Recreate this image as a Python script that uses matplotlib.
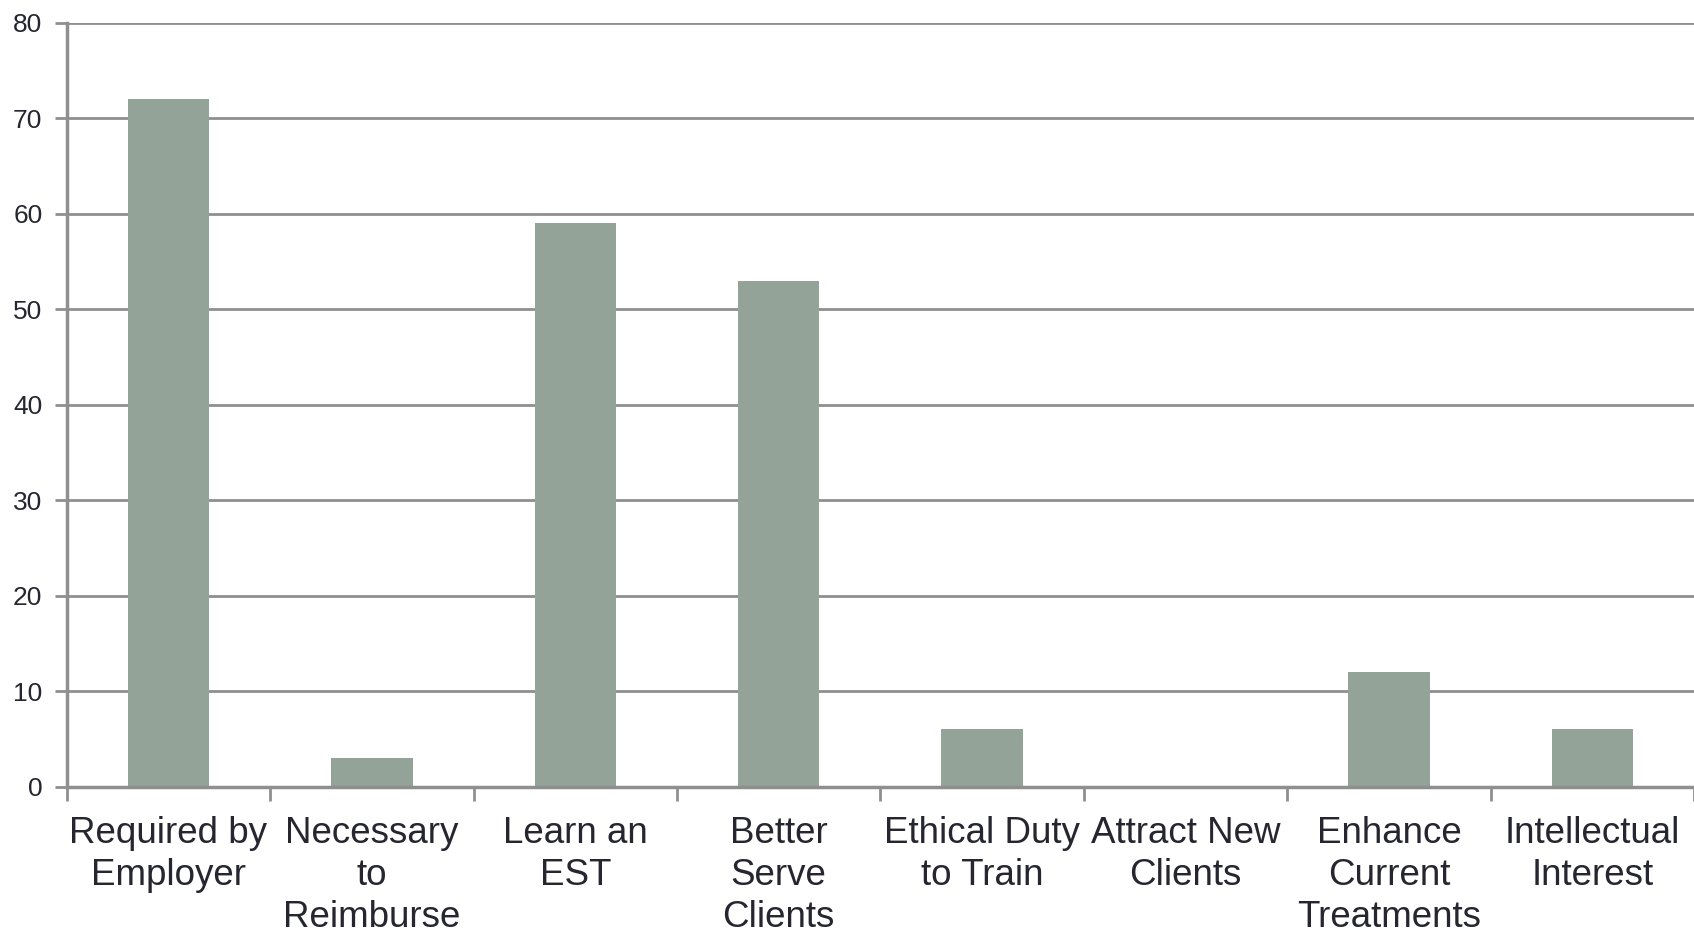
import numpy as np
import matplotlib.pyplot as plt

# reasons for training, counts
categories = ['Required by\nEmployer', 'Necessary\nto\nReimburse', 'Learn an\nEST',
              'Better\nServe\nClients', 'Ethical Duty\nto Train', 'Attract New\nClients',
              'Enhance\nCurrent\nTreatments', 'Intellectual\nInterest']
values = [72, 3, 59, 53, 6, 0, 12, 6]
yticks = [0, 10, 20, 30, 40, 50, 60, 70, 80]

plt.rcParams['font.family'] = ['Liberation Sans', 'DejaVu Sans']

fig = plt.figure(figsize=(16.94, 9.35), dpi=100)
ax = fig.add_axes([0.0394, 0.1586, 0.9606, 0.8171])

x = np.arange(len(categories))
ax.bar(x, values, width=0.4, color='#93a398', zorder=3)

ax.set_xlim(-0.5, len(categories) - 0.5)
ax.set_ylim(0, 80)
ax.set_yticks(yticks)
ax.yaxis.grid(True, color='#8f8f8f', linewidth=2.0, zorder=0)

# category boundaries get the tick marks, labels sit at bar centres
ax.set_xticks(np.arange(len(categories) + 1) - 0.5)
ax.set_xticklabels([])
ax.set_xticks(x, minor=True)
ax.set_xticklabels(categories, minor=True, fontsize=26.5, color='#262630', linespacing=1.27)
ax.tick_params(axis='x', which='minor', length=0, pad=21)
ax.tick_params(axis='x', which='major', length=10, width=2, color='#8f8f8f')
ax.tick_params(axis='y', length=8.5, width=2, color='#8f8f8f', labelsize=19,
               labelcolor='#262630', pad=9)

for s in ['top', 'right']:
    ax.spines[s].set_visible(False)
for s in ['left', 'bottom']:
    ax.spines[s].set_color('#8f8f8f')
    ax.spines[s].set_linewidth(2.5)
    ax.spines[s].set_zorder(4)

fig.savefig('out.png', dpi=100)
